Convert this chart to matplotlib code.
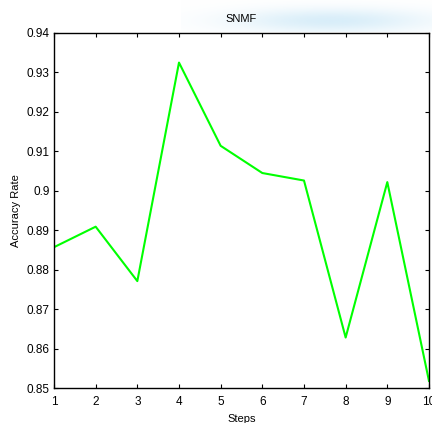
import matplotlib
matplotlib.use("Agg")
import matplotlib.pyplot as plt
import numpy as np

plt.rcParams['font.family'] = ['Liberation Sans', 'DejaVu Sans']
plt.rcParams['font.size'] = 8.5

steps = [1, 2, 3, 4, 5, 6, 7, 8, 9, 10]
accuracy = [0.8857, 0.8909, 0.8771, 0.9325, 0.9114, 0.9045, 0.9026, 0.8628, 0.9022, 0.8518]
yticks = [0.85, 0.86, 0.87, 0.88, 0.89, 0.90, 0.91, 0.92, 0.93, 0.94]
ytick_labels = ['0.85', '0.86', '0.87', '0.88', '0.89', '0.9', '0.91', '0.92', '0.93', '0.94']

fig = plt.figure(figsize=(4.32, 4.23), dpi=100)

# faint bluish smear in the top right corner
bg = fig.add_axes([0.42, 0.925, 0.58, 0.075], zorder=-1)
xx, yy = np.meshgrid(np.linspace(-1, 1, 200), np.linspace(-1, 1, 40))
haze = np.exp(-((xx - 0.2) ** 2 / 0.6 + (yy - 0.3) ** 2 / 0.6))
rgba = np.zeros(haze.shape + (4,))
rgba[..., 0] = 0.80
rgba[..., 1] = 0.91
rgba[..., 2] = 0.97
rgba[..., 3] = 0.75 * haze
bg.imshow(rgba, aspect='auto', extent=[0, 1, 0, 1])
bg.axis('off')

ax = fig.add_axes([0.125, 0.0827, 0.868, 0.8393])
ax.plot(steps, accuracy, color=(0, 1, 0), lw=1.5)

ax.set_xlim(1, 10)
ax.set_ylim(0.85, 0.94)
ax.set_xticks(steps)
ax.set_yticks(yticks)
ax.set_yticklabels(ytick_labels)
ax.tick_params(direction='in', top=True, right=True, length=3, width=0.8)
ax.tick_params(axis='x', pad=6)
ax.tick_params(axis='y', pad=3)
for s in ax.spines.values():
    s.set_linewidth(1.0)

ax.set_title('SNMF', fontsize=8, pad=8)
ax.set_xlabel('Steps', fontsize=8, labelpad=4)
ax.set_ylabel('Accuracy Rate', fontsize=8, labelpad=4)

fig.savefig('out.png', dpi=100)
